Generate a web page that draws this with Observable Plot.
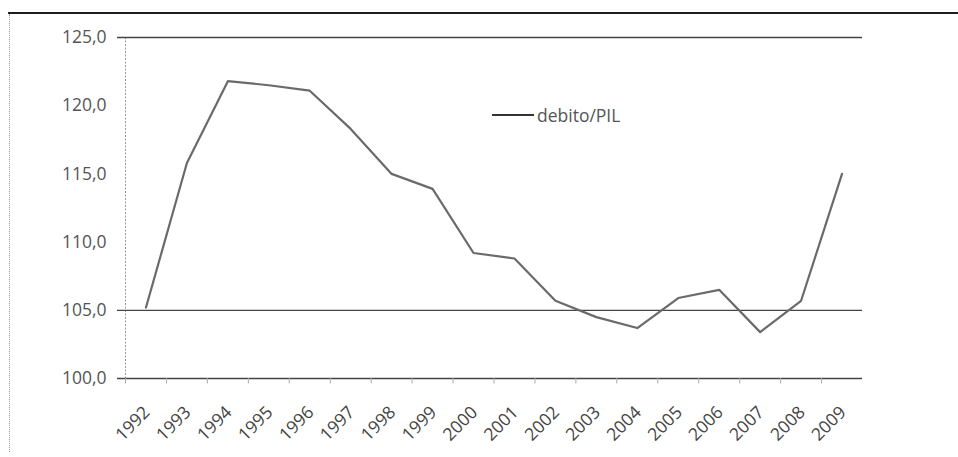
<!DOCTYPE html>
<html>
<head>
<meta charset="utf-8">
<script src="https://cdn.jsdelivr.net/npm/d3@7"></script>
<script src="https://cdn.jsdelivr.net/npm/@observablehq/plot@0.6"></script>
<style>
  html, body { margin: 0; padding: 0; background: #fff; }
  #wrap { position: relative; width: 958px; height: 457px; overflow: hidden; }
  #topline { position: absolute; left: 8px; top: 12px; width: 950px; height: 2px; background: #1e1e1e; }
  #leftline { position: absolute; left: 9px; top: 14px; height: 438px; border-left: 1px dotted #9a9a9a; }
  #legend { position: absolute; left: 492px; top: 103px; font-family: 'Open Sans', sans-serif; font-size: 17.5px; color: #555; display: flex; align-items: center; }
  #legend .sw { display: inline-block; width: 42px; height: 2px; background: #333; margin-right: 3px; }
</style>
</head>
<body>
<div id="wrap">
  <div id="chart"></div>
  <div id="topline"></div>
  <div id="leftline"></div>
  <div id="legend"><span class="sw"></span><span>debito/PIL</span></div>
</div>
<script>
const years = ["1992","1993","1994","1995","1996","1997","1998","1999","2000","2001","2002","2003","2004","2005","2006","2007","2008","2009"];
const debitoPIL = [105.2,115.8,121.8,121.5,121.1,118.3,115.0,113.9,109.2,108.8,105.7,104.5,103.7,105.9,106.5,103.4,105.7,115.0];
const yTicks = [100,105,110,115,120,125];
const gridValues = [100,105,125];
const seriesName = "debito/PIL";

const W = 958, H = 457, mL = 125, mR = 96, mT = 37, mB = 79;
const step = (W - mL - mR) / years.length;
const rows = years.map((y, i) => ({year: y, value: debitoPIL[i]}));

const chart = Plot.plot({
  width: W, height: H,
  marginLeft: mL, marginRight: mR, marginTop: mT, marginBottom: mB,
  style: {fontFamily: "'Open Sans', sans-serif", fontSize: "17.5px", color: "#555", background: "transparent", overflow: "visible"},
  x: {type: "point", domain: years, padding: 0.5, round: false, label: null, axis: null},
  y: {domain: [100, 125], label: null, axis: null},
  marks: [
    Plot.ruleX([years[0]], {dx: -step / 2, stroke: "#999", strokeDasharray: "2,1.5", strokeWidth: 1}),
    Plot.ruleY(gridValues, {stroke: "#444", strokeWidth: 1.3, insetLeft: -8}),
    Plot.ruleX(years, {y1: 100, y2: 99.6, dx: -step / 2, stroke: "#aaa", strokeWidth: 1}),
    Plot.axisY(yTicks, {tickSize: 0, tickPadding: 19, tickFormat: d => d.toFixed(1).replace(".", ","), fill: "#555", label: null}),
    Plot.axisX(years, {tickSize: 0, tickPadding: 31, tickRotate: -45, dx: 1, fill: "#444", label: null}),
    Plot.line(rows, {x: "year", y: "value", stroke: "#6a6a6a", strokeWidth: 2.2})
  ]
});
document.getElementById("chart").appendChild(chart);
</script>
</body>
</html>
